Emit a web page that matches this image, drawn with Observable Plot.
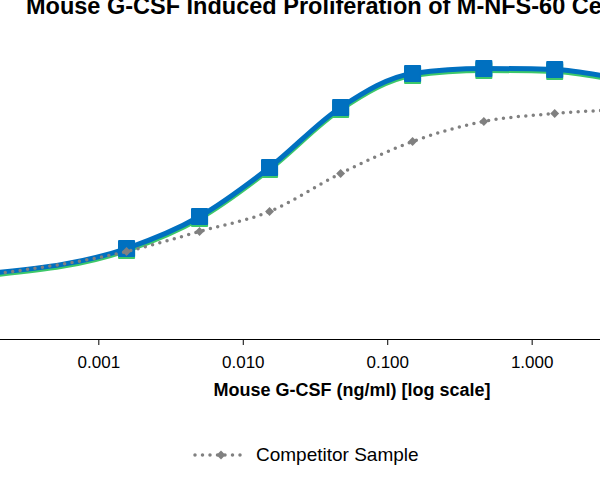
<!DOCTYPE html>
<html>
<head>
<meta charset="utf-8">
<script src="https://cdn.jsdelivr.net/npm/d3@7"></script>
<script src="https://cdn.jsdelivr.net/npm/@observablehq/plot@0.6"></script>
<style>
  html, body { margin: 0; padding: 0; background: #fff; }
  #wrap { position: relative; width: 600px; height: 480px; overflow: hidden; font-family: "Liberation Sans", Arial, sans-serif; }
  #title { position: absolute; left: 26px; top: -5px; font-size: 23.5px; line-height: 1; font-weight: bold; white-space: nowrap; color: #000; }
  #plot { position: absolute; left: 0; top: 0; }
  #xlabel { position: absolute; left: 0; width: 704px; top: 380px; text-align: center; font-size: 18px; font-weight: bold; color: #000; white-space: nowrap; }
  #legend { position: absolute; left: 192px; top: 444px; font-size: 19px; color: #000; display: flex; align-items: center; white-space: nowrap; }
  #legend svg { margin-right: 8px; }
</style>
</head>
<body>
<div id="wrap">
  <div id="title">Mouse G-CSF Induced Proliferation of M-NFS-60 Cells</div>
  <div id="plot"></div>
  <div id="xlabel">Mouse G-CSF (ng/ml) [log scale]</div>
  <div id="legend"></div>
</div>
<script>
// Concentrations (ng/ml) of the measured points
const conc = [0.001556, 0.00498, 0.0152, 0.0472, 0.1486, 0.4628, 1.432];
// Responses (arbitrary units)
const mouseGCSF = [0.91, 1.23, 1.72, 2.32, 2.66, 2.71, 2.70];
const reference = [0.89, 1.21, 1.70, 2.30, 2.64, 2.69, 2.68];
const competitor = [0.88, 1.08, 1.28, 1.66, 1.98, 2.18, 2.26];
// Fitted curve ends outside the measured range (visible at the edges)
const endConc = [0.0002, 3.0];
const mouseEnds = [0.67, 2.64];
const referenceEnds = [0.65, 2.62];
const competitorEnds = [0.66, 2.29];
const xTicks = [0.001, 0.01, 0.1, 1];

const pts = (ys) => conc.map((c, i) => ({x: c, y: ys[i]}));
const curve = (ys, ends) => [{x: endConc[0], y: ends[0]}, ...pts(ys), {x: endConc[1], y: ends[1]}];

const blue = "#0070C0", green = "#3DC86A", gray = "#808080";

const chart = Plot.plot({
  width: 600,
  height: 480,
  marginLeft: 0,
  marginRight: 0,
  marginTop: 0,
  marginBottom: 141,
  style: {fontFamily: "'Liberation Sans', Arial, sans-serif", fontSize: "17px", color: "#000", background: "transparent", overflow: "hidden"},
  x: {type: "log", domain: [0.0002086, 2.972]},
  y: {domain: [0, 3.39], axis: null},
  marks: [
    Plot.ruleY([0], {stroke: "#000", strokeWidth: 1}),
    Plot.axisX(xTicks, {tickFormat: d3.format(".3f"), tickSize: 6, tickPadding: 10, stroke: "#000", fontSize: 17, label: null}),
    Plot.line(curve(reference, referenceEnds), {x: "x", y: "y", stroke: green, strokeWidth: 5, curve: "monotone-x"}),
    Plot.dot(pts(reference), {x: "x", y: "y", symbol: "square", r: 8.5, fill: green, stroke: green, strokeWidth: 2, strokeLinejoin: "round"}),
    Plot.line(curve(mouseGCSF, mouseEnds), {x: "x", y: "y", stroke: blue, strokeWidth: 5, curve: "monotone-x"}),
    Plot.dot(pts(mouseGCSF), {x: "x", y: "y", symbol: "square", r: 8.5, fill: blue, stroke: blue, strokeWidth: 2, strokeLinejoin: "round"}),
    Plot.line(curve(competitor, competitorEnds), {x: "x", y: "y", stroke: gray, strokeWidth: 3.5, strokeDasharray: "0 7.5", strokeLinecap: "round", curve: "monotone-x"}),
    Plot.dot(pts(competitor), {x: "x", y: "y", symbol: "diamond2", r: 4, fill: gray, stroke: "none"})
  ]
});
document.getElementById("plot").appendChild(chart);

// Legend
const lg = d3.select("#legend");
const ls = lg.append("svg").attr("width", 56).attr("height", 14);
ls.append("line").attr("x1", 3).attr("x2", 53).attr("y1", 7).attr("y2", 7)
  .attr("stroke", gray).attr("stroke-width", 3.5).attr("stroke-dasharray", "0 7.5").attr("stroke-linecap", "round");
ls.append("path").attr("d", d3.symbol(d3.symbolDiamond2, Math.PI * 16)()).attr("transform", "translate(29,7)").attr("fill", gray);
lg.append("span").text("Competitor Sample");
</script>
</body>
</html>
